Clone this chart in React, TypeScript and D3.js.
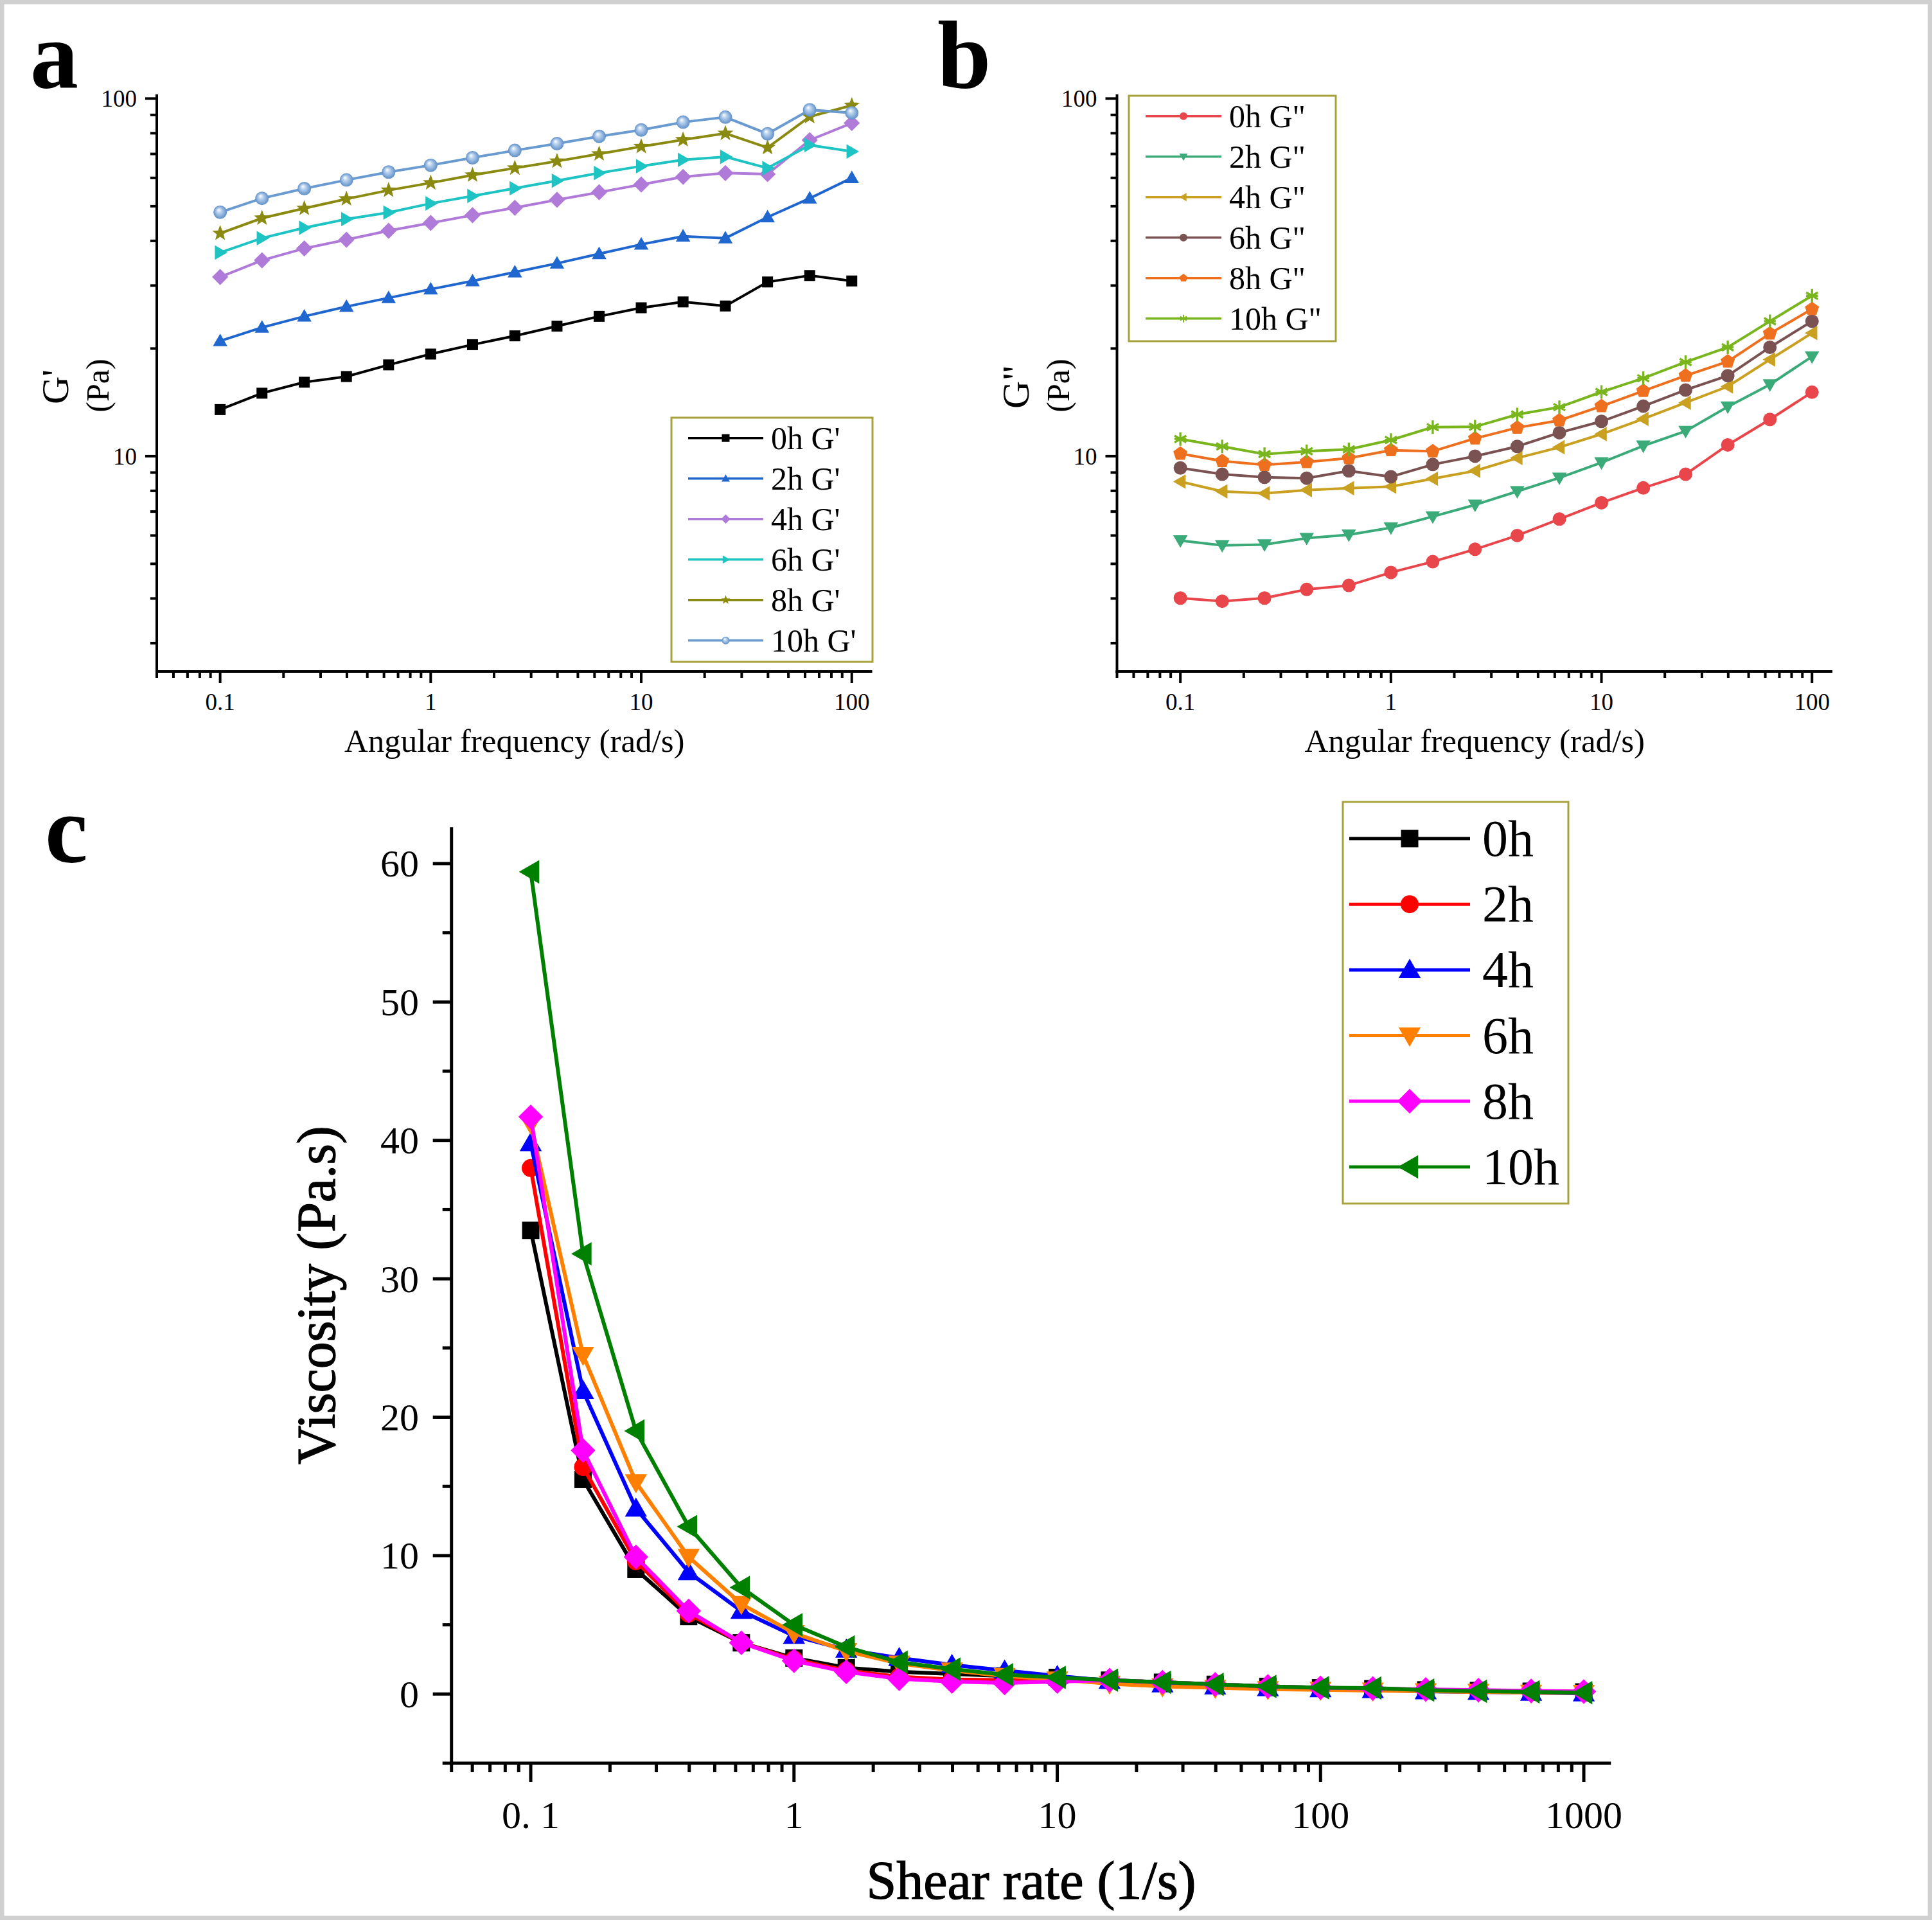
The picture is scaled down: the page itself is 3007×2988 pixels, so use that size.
import React from 'react';
import * as d3 from 'd3';

const FONT = "'Liberation Serif', 'Times New Roman', Times, serif";

// ---------- DATA ----------
const freq = [0.1, 0.158, 0.251, 0.398, 0.631, 1, 1.58, 2.51, 3.98, 6.31, 10, 15.8, 25.1, 39.8, 63.1, 100];

const gPrime0h = [13.5, 15.0, 16.1, 16.7, 18.0, 19.3, 20.5, 21.7, 23.1, 24.6, 26.0, 27.0, 26.3, 30.7, 32.0, 30.9];
const gPrime2h = [21.0, 22.9, 24.6, 26.2, 27.7, 29.3, 30.9, 32.7, 34.6, 36.8, 39.1, 41.2, 40.7, 46.6, 52.6, 60.0];
const gPrime4h = [31.7, 35.3, 38.1, 40.3, 42.7, 44.9, 47.2, 49.5, 52.1, 54.7, 57.5, 60.4, 61.9, 61.5, 76.5, 85.4];
const gPrime6h = [37.1, 40.7, 43.5, 46.0, 48.0, 50.9, 53.4, 56.1, 58.9, 61.9, 64.7, 67.4, 68.7, 63.9, 74.1, 71.1];
const gPrime8h = [42.0, 46.3, 49.3, 52.4, 55.4, 58.1, 61.1, 63.9, 66.8, 70.0, 73.4, 76.7, 79.9, 72.9, 89.0, 95.7];
const gPrime10h = [48.1, 52.6, 56.0, 59.2, 62.3, 65.1, 68.3, 71.6, 74.8, 78.4, 81.7, 85.9, 88.7, 79.7, 93.0, 91.2];

const gDouble0h = [4.01, 3.93, 4.01, 4.24, 4.35, 4.73, 5.07, 5.49, 6.0, 6.67, 7.41, 8.15, 8.9, 10.75, 12.67, 15.1];
const gDouble2h = [5.81, 5.63, 5.66, 5.9, 6.03, 6.31, 6.78, 7.31, 7.97, 8.7, 9.6, 10.69, 11.75, 13.75, 15.86, 18.99];
const gDouble4h = [8.49, 7.97, 7.87, 8.04, 8.14, 8.22, 8.65, 9.1, 9.88, 10.59, 11.53, 12.71, 14.11, 15.66, 18.63, 22.1];
const gDouble6h = [9.27, 8.9, 8.73, 8.68, 9.1, 8.76, 9.48, 10.0, 10.65, 11.63, 12.51, 13.8, 15.31, 16.79, 20.16, 23.84];
const gDouble8h = [10.16, 9.69, 9.45, 9.63, 9.87, 10.39, 10.32, 11.21, 12.01, 12.59, 13.8, 15.22, 16.79, 18.39, 22.02, 25.79];
const gDouble10h = [11.17, 10.65, 10.13, 10.32, 10.45, 11.1, 12.05, 12.09, 13.08, 13.71, 15.12, 16.52, 18.33, 20.16, 23.84, 28.1];

const shear = [0.1, 0.158, 0.251, 0.398, 0.631, 1, 1.58, 2.51, 3.98, 6.31, 10, 15.8, 25.1, 39.8, 63.1, 100, 158, 251, 398, 631, 1000];
const visc0h = [33.5, 15.5, 9.0, 5.6, 3.7, 2.6, 1.9, 1.6, 1.45, 1.3, 1.2, 1.0, 0.85, 0.7, 0.55, 0.45, 0.38, 0.3, 0.25, 0.2, 0.15];
const visc2h = [38.0, 16.4, 9.6, 5.8, 3.7, 2.5, 1.7, 1.25, 1.05, 1.0, 1.0, 0.95, 0.8, 0.65, 0.5, 0.42, 0.35, 0.3, 0.25, 0.2, 0.15];
const visc4h = [39.8, 21.9, 13.4, 8.8, 6.0, 4.2, 3.2, 2.6, 2.1, 1.7, 1.3, 0.95, 0.7, 0.55, 0.42, 0.35, 0.28, 0.2, 0.15, 0.1, 0.05];
const visc6h = [41.2, 24.5, 15.3, 9.9, 6.5, 4.4, 3.1, 2.2, 1.7, 1.3, 1.05, 0.75, 0.55, 0.45, 0.35, 0.3, 0.25, 0.2, 0.15, 0.1, 0.08];
const visc8h = [41.7, 17.6, 9.9, 6.0, 3.7, 2.4, 1.6, 1.1, 0.9, 0.8, 0.9, 1.0, 0.85, 0.7, 0.55, 0.45, 0.4, 0.33, 0.28, 0.22, 0.18];
const visc10h = [59.4, 31.8, 19.0, 12.1, 7.7, 5.0, 3.4, 2.3, 1.8, 1.4, 1.2, 1.0, 0.85, 0.7, 0.55, 0.45, 0.43, 0.28, 0.2, 0.15, 0.09];

const seriesALabels = ["0h G'", "2h G'", "4h G'", "6h G'", "8h G'", "10h G'"];
const seriesBLabels = ['0h G"', '2h G"', '4h G"', '6h G"', '8h G"', '10h G"'];
const seriesCLabels = ['0h', '2h', '4h', '6h', '8h', '10h'];

const logXTickLabels = ['0.1', '1', '10', '100'];
const logYTickLabels = ['10', '100'];
const shearTickLabels = ['0. 1', '1', '10', '100', '1000'];
const viscTicks = [0, 10, 20, 30, 40, 50, 60];

// ---------- STYLES ----------
const colorsA = ['#000000', '#1f66cf', '#b07ad9', '#1ec4c4', '#8a8a10', '#6a9bd0'];
const shapesA = ['square', 'triUp', 'diamond', 'triRight', 'star', 'ball'];
const colorsB = ['#e8464b', '#3aaa78', '#c9a020', '#7b5252', '#ee6f1e', '#79b51d'];
const shapesB = ['circle', 'triDown', 'triLeft', 'circle', 'pentagon', 'asterisk'];
const colorsC = ['#000000', '#ff0000', '#0000ff', '#ff8000', '#ff00ff', '#008000'];
const shapesC = ['square', 'circle', 'triUp', 'triDown', 'diamond', 'triLeft'];
const LEGEND_BORDER = '#a8a23c';

function polyPath(cx: number, cy: number, r: number, n: number, rotDeg: number, innerRatio?: number) {
  const pts: [number, number][] = [];
  const total = innerRatio ? n * 2 : n;
  for (let i = 0; i < total; i++) {
    const a = (rotDeg * Math.PI) / 180 + (i * 2 * Math.PI) / total;
    const rr = innerRatio && i % 2 === 1 ? r * innerRatio : r;
    pts.push([cx + rr * Math.cos(a), cy + rr * Math.sin(a)]);
  }
  return 'M' + pts.map((p) => p[0].toFixed(2) + ',' + p[1].toFixed(2)).join('L') + 'Z';
}

function Marker({ shape, cx, cy, s, color, gradId }: any) {
  switch (shape) {
    case 'square':
      return <rect x={cx - s / 2} y={cy - s / 2} width={s} height={s} fill={color} />;
    case 'circle':
      return <circle cx={cx} cy={cy} r={s / 2} fill={color} />;
    case 'ball':
      return <circle cx={cx} cy={cy} r={s / 2} fill={`url(#${gradId})`} />;
    case 'triUp':
      return <path d={polyPath(cx, cy + s * 0.08, s * 0.62, 3, -90)} fill={color} />;
    case 'triDown':
      return <path d={polyPath(cx, cy - s * 0.08, s * 0.62, 3, 90)} fill={color} />;
    case 'triLeft':
      return <path d={polyPath(cx + s * 0.08, cy, s * 0.62, 3, 180)} fill={color} />;
    case 'triRight':
      return <path d={polyPath(cx - s * 0.08, cy, s * 0.62, 3, 0)} fill={color} />;
    case 'diamond':
      return <path d={polyPath(cx, cy, s * 0.6, 4, -90)} fill={color} />;
    case 'pentagon':
      return <path d={polyPath(cx, cy, s * 0.55, 5, -90)} fill={color} />;
    case 'star':
      return <path d={polyPath(cx, cy, s * 0.62, 5, -90, 0.42)} fill={color} />;
    case 'asterisk': {
      const r = s * 0.5;
      const d = [0, 60, 120].map((deg) => {
        const a = ((deg - 90) * Math.PI) / 180;
        return `M${cx - r * Math.cos(a)},${cy - r * Math.sin(a)}L${cx + r * Math.cos(a)},${cy + r * Math.sin(a)}`;
      }).join('') + `M${cx - r * 0.87},${cy}L${cx + r * 0.87},${cy}`;
      return <path d={d} stroke={color} strokeWidth={s * 0.16} fill="none" />;
    }
    default:
      return null;
  }
}

function logTicks(domain: [number, number]) {
  const out: { v: number; major: boolean }[] = [];
  for (let e = -3; e <= 4; e++) {
    for (let k = 1; k <= 9; k++) {
      const v = k * Math.pow(10, e);
      if (v >= domain[0] * 0.9999 && v <= domain[1] * 1.0001) out.push({ v, major: k === 1 });
    }
  }
  return out;
}

function LogLogPanel({ ox, series, labels, colors, shapes, ylab, legend, gradId }: any) {
  const xDom: [number, number] = [0.05, 125];
  const yDom: [number, number] = [2.5, 102.8];
  const x = d3.scaleLog().domain(xDom).range([244 + ox, 1357.5 + ox]);
  const y = d3.scaleLog().domain(yDom).range([1045, 146.7]);
  const line = d3.line<number>().x((_, i) => x(freq[i])).y((v) => y(v));
  const x0 = x.range()[0];
  const y0 = y.range()[0];
  const xt = logTicks(xDom);
  const yt = logTicks(yDom);
  return (
    <g>
      {series.map((vals: number[], si: number) => (
        <g key={si}>
          <path d={line(vals) || ''} fill="none" stroke={colors[si]} strokeWidth={4} />
          {vals.map((v, i) => (
            <Marker key={i} shape={shapes[si]} cx={x(freq[i])} cy={y(v)} s={shapes[si] === 'square' ? 17 : 21} color={colors[si]} gradId={gradId} />
          ))}
        </g>
      ))}
      {/* axes */}
      <line x1={x0} y1={y.range()[1]} x2={x0} y2={y0 + 2} stroke="#000" strokeWidth={4} />
      <line x1={x0 - 2} y1={y0} x2={x.range()[1]} y2={y0} stroke="#000" strokeWidth={4} />
      {xt.map((t, i) => (
        <line key={'xt' + i} x1={x(t.v)} x2={x(t.v)} y1={y0} y2={y0 + (t.major ? 18 : 10)} stroke="#000" strokeWidth={4} />
      ))}
      {yt.map((t, i) => (
        <line key={'yt' + i} x1={x0} x2={x0 - (t.major ? 18 : 10)} y1={y(t.v)} y2={y(t.v)} stroke="#000" strokeWidth={4} />
      ))}
      {logXTickLabels.map((l) => (
        <text key={l} x={x(+l)} y={1105} textAnchor="middle" fontFamily={FONT} fontSize={37}>{l}</text>
      ))}
      {logYTickLabels.map((l) => (
        <text key={l} x={x0 - 31} y={y(+l)} dy="0.34em" textAnchor="end" fontFamily={FONT} fontSize={37}>{l}</text>
      ))}
      <text x={(x.range()[0] + x.range()[1]) / 2} y={1170} textAnchor="middle" fontFamily={FONT} fontSize={51}>
        Angular frequency (rad/s)
      </text>
      <text transform={`translate(${106 + ox},602) rotate(-90)`} textAnchor="middle" fontFamily={FONT} fontSize={60}>{ylab}</text>
      <text transform={`translate(${169 + ox},600) rotate(-90)`} textAnchor="middle" fontFamily={FONT} fontSize={50}>(Pa)</text>
      {/* legend */}
      <rect x={legend.x} y={legend.y} width={legend.w} height={legend.h} fill="#fff" stroke={LEGEND_BORDER} strokeWidth={3} />
      {labels.map((lab: string, i: number) => {
        const cy = legend.row0 + i * 63;
        return (
          <g key={lab}>
            <line x1={legend.lx1} x2={legend.lx2} y1={cy} y2={cy} stroke={colors[i]} strokeWidth={3.5} />
            <Marker shape={shapes[i]} cx={(legend.lx1 + legend.lx2) / 2} cy={cy} s={12} color={colors[i]} gradId={gradId} />
            <text x={legend.tx} y={cy + 17} fontFamily={FONT} fontSize={50}>{lab}</text>
          </g>
        );
      })}
    </g>
  );
}

function ViscPanel() {
  const xDom: [number, number] = [0.05, 1268];
  const x = d3.scaleLog().domain(xDom).range([702.7, 2507.3]);
  const y = d3.scaleLinear().domain([-5, 62.63]).range([2744, 1287.3]);
  const series = [visc0h, visc2h, visc4h, visc6h, visc8h, visc10h];
  const line = d3.line<number>().x((_, i) => x(shear[i])).y((v) => y(v));
  const x0 = x.range()[0];
  const y0 = y.range()[0];
  const xt = logTicks(xDom);
  const yt = d3.range(-5, 61, 5);
  const sizes: any = { square: 27, circle: 28, triUp: 32, triDown: 32, diamond: 32, triLeft: 34 };
  const legRow0 = 1305;
  const legStep = 102.2;
  return (
    <g>
      {series.map((vals, si) => (
        <g key={si}>
          <path d={line(vals) || ''} fill="none" stroke={colorsC[si]} strokeWidth={6} />
          {vals.map((v, i) => (
            <Marker key={i} shape={shapesC[si]} cx={x(shear[i])} cy={y(v)} s={sizes[shapesC[si]]} color={colorsC[si]} />
          ))}
        </g>
      ))}
      <line x1={x0} y1={y.range()[1]} x2={x0} y2={y0 + 2.5} stroke="#000" strokeWidth={5} />
      <line x1={x0 - 2.5} y1={y0} x2={x.range()[1]} y2={y0} stroke="#000" strokeWidth={5} />
      {xt.map((t, i) => (
        <line key={'xt' + i} x1={x(t.v)} x2={x(t.v)} y1={y0} y2={y0 + (t.major ? 29 : 14)} stroke="#000" strokeWidth={5} />
      ))}
      {yt.map((v) => (
        <line key={'yt' + v} x1={x0} x2={x0 - (v % 10 === 0 ? 29 : 14)} y1={y(v)} y2={y(v)} stroke="#000" strokeWidth={5} />
      ))}
      {shearTickLabels.map((l, i) => (
        <text key={l} x={x(Math.pow(10, i - 1))} y={2845} textAnchor="middle" fontFamily={FONT} fontSize={60}>{l}</text>
      ))}
      {viscTicks.map((v) => (
        <text key={v} x={652} y={y(v)} dy="0.34em" textAnchor="end" fontFamily={FONT} fontSize={60}>{v}</text>
      ))}
      <text x={(x.range()[0] + x.range()[1]) / 2} y={2955} textAnchor="middle" fontFamily={FONT} fontSize={84} stroke="#000" strokeWidth={1.2}>Shear rate (1/s)</text>
      <text transform={`translate(521,${(y.range()[0] + y.range()[1]) / 2}) rotate(-90)`} textAnchor="middle" fontFamily={FONT} fontSize={84} stroke="#000" strokeWidth={1.2}>
        Viscosity (Pa.s)
      </text>
      <rect x={2090} y={1248} width={351} height={625} fill="#fff" stroke={LEGEND_BORDER} strokeWidth={3} />
      {seriesCLabels.map((lab, i) => {
        const cy = legRow0 + i * legStep;
        return (
          <g key={lab}>
            <line x1={2100} x2={2288} y1={cy} y2={cy} stroke={colorsC[i]} strokeWidth={5} />
            <Marker shape={shapesC[i]} cx={2194} cy={cy} s={sizes[shapesC[i]]} color={colorsC[i]} />
            <text x={2307} y={cy + 27} fontFamily={FONT} fontSize={80}>{lab}</text>
          </g>
        );
      })}
    </g>
  );
}

export default function App() {
  const W = 3007;
  const H = 2988;
  return (
    <svg width={W} height={H} viewBox={`0 0 ${W} ${H}`} style={{ position: 'absolute', left: 0, top: 0, display: 'block', background: '#fff' }}>
      <defs>
        <radialGradient id="ballGrad" cx="0.5" cy="0.5" r="0.5" fx="0.38" fy="0.32">
          <stop offset="0" stopColor="#ffffff" />
          <stop offset="0.35" stopColor="#b9d2ee" />
          <stop offset="1" stopColor="#5e8fc8" />
        </radialGradient>
      </defs>
      <rect x={0} y={0} width={W} height={H} fill="#fff" stroke="#d0d0d0" strokeWidth={13} />
      <LogLogPanel
        ox={0}
        series={[gPrime0h, gPrime2h, gPrime4h, gPrime6h, gPrime8h, gPrime10h]}
        labels={seriesALabels}
        colors={colorsA}
        shapes={shapesA}
        ylab="G'"
        gradId="ballGrad"
        legend={{ x: 1045, y: 650, w: 313, h: 380, row0: 681.7, lx1: 1071, lx2: 1188, tx: 1200 }}
      />
      <LogLogPanel
        ox={1494.5}
        series={[gDouble0h, gDouble2h, gDouble4h, gDouble6h, gDouble8h, gDouble10h]}
        labels={seriesBLabels}
        colors={colorsB}
        shapes={shapesB}
        ylab={'G"'}
        gradId="ballGrad"
        legend={{ x: 1757, y: 149, w: 322, h: 382, row0: 180.7, lx1: 1783, lx2: 1901, tx: 1913 }}
      />
      <ViscPanel />
      <text x={47} y={136} fontFamily={FONT} fontWeight="bold" fontSize={150}>a</text>
      <text x={1459} y={137} fontFamily={FONT} fontWeight="bold" fontSize={150}>b</text>
      <text x={70} y={1342} fontFamily={FONT} fontWeight="bold" fontSize={150}>c</text>
    </svg>
  );
}
